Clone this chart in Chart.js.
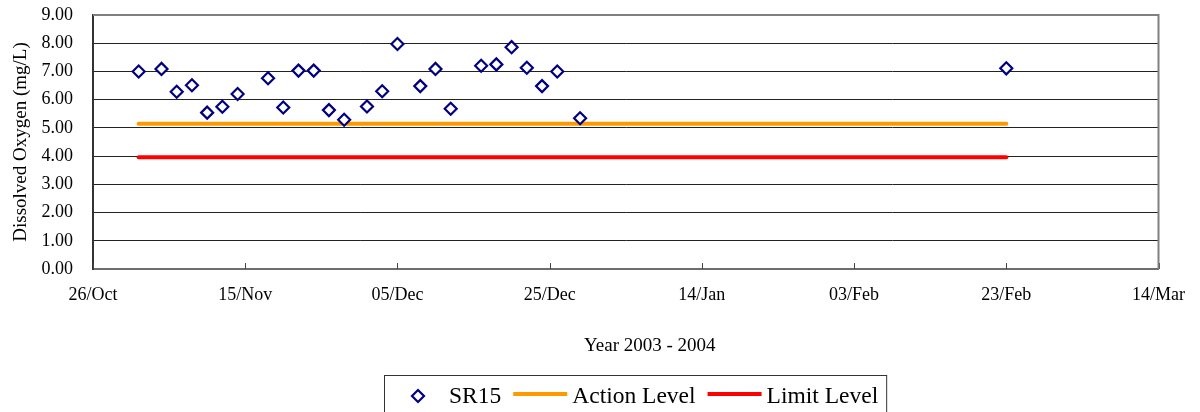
<!DOCTYPE html>
<html>
<head>
<meta charset="utf-8">
<title>Dissolved Oxygen – SR15</title>
<script src="https://cdn.jsdelivr.net/npm/chart.js@4.4.1/dist/chart.umd.min.js"></script>
<style>
  html, body { margin: 0; padding: 0; background: #ffffff; }
  #wrap { width: 1200px; height: 412px; position: relative; }
</style>
</head>
<body>
<div id="wrap"><canvas id="chart" width="1200" height="412"></canvas></div>
<script>
// Monitoring station SR15 – dissolved oxygen readings (mg/L)
const sampleDates = [
  '2003-11-01', '2003-11-04', '2003-11-06', '2003-11-08', '2003-11-10', '2003-11-12',
  '2003-11-14', '2003-11-18', '2003-11-20', '2003-11-22', '2003-11-24', '2003-11-26',
  '2003-11-28', '2003-12-01', '2003-12-03', '2003-12-05', '2003-12-08', '2003-12-10',
  '2003-12-12', '2003-12-16', '2003-12-18', '2003-12-20', '2003-12-22', '2003-12-24',
  '2003-12-26', '2003-12-29', '2004-02-23'
];
const doValues = [
  7.00, 7.09, 6.28, 6.51, 5.54, 5.75,
  6.20, 6.76, 5.72, 7.03, 7.03, 5.63,
  5.29, 5.76, 6.30, 7.97, 6.48, 7.09,
  5.68, 7.20, 7.25, 7.86, 7.13, 6.48,
  7.00, 5.34, 7.11
];

// Compliance thresholds (mg/L), applied across the monitoring period
const actionLevel = 5.15;
const limitLevel = 3.96;
const levelPeriod = ['2003-11-01', '2004-02-23'];

// Axis range, tick settings and titles
const axisStart = '2003-10-26';
const axisEnd = '2004-03-14';
const dateStepDays = 20;
const yMin = 0, yMax = 9, yStep = 1;
const monthNames = ['Jan','Feb','Mar','Apr','May','Jun','Jul','Aug','Sep','Oct','Nov','Dec'];
const xAxisTitle = 'Year 2003 - 2004';
const yAxisTitle = 'Dissolved Oxygen (mg/L)';

const DAY_MS = 86400000;
function toUTC(s) {
  const [y, m, d] = s.split('-').map(Number);
  return Date.UTC(y, m - 1, d);
}
const originMs = toUTC(axisStart);
function dayIndex(s) { return Math.round((toUTC(s) - originMs) / DAY_MS); }
function dayLabel(v) {
  const d = new Date(originMs + v * DAY_MS);
  const dd = String(d.getUTCDate()).padStart(2, '0');
  return dd + '/' + monthNames[d.getUTCMonth()];
}

const serif = "'Liberation Serif', 'Times New Roman', serif";

const sr15Points = sampleDates.map((s, i) => ({ x: dayIndex(s), y: doValues[i] }));
const actionPoints = levelPeriod.map(s => ({ x: dayIndex(s), y: actionLevel }));
const limitPoints = levelPeriod.map(s => ({ x: dayIndex(s), y: limitLevel }));

// Plot frame (top/right border), inward tick marks on the date axis, date-axis title
const framePlugin = {
  id: 'frame',
  beforeDatasetsDraw(chart) {
    const { ctx, chartArea: a, scales: { x } } = chart;
    ctx.save();
    ctx.strokeStyle = '#444';
    ctx.lineWidth = 1;
    x.ticks.forEach(t => {
      const px = Math.round(x.getPixelForValue(t.value)) + 0.5;
      ctx.beginPath();
      ctx.moveTo(px, a.bottom);
      ctx.lineTo(px, a.bottom - 6);
      ctx.stroke();
    });
    ctx.restore();
  },
  afterDraw(chart, args, opts) {
    const { ctx, chartArea: a } = chart;
    ctx.save();
    ctx.strokeStyle = '#808080';
    ctx.lineWidth = 2;
    ctx.beginPath();
    ctx.moveTo(a.left, a.top);
    ctx.lineTo(a.right, a.top);
    ctx.lineTo(a.right, a.bottom);
    ctx.stroke();

    ctx.fillStyle = '#000';
    ctx.font = opts.titleSize + 'px ' + serif;
    ctx.textAlign = 'center';
    ctx.textBaseline = 'middle';
    ctx.fillText(xAxisTitle, (a.left + a.right) / 2 + opts.titleShift, a.bottom + opts.titleDrop);
    ctx.restore();
  }
};

// Boxed legend below the axis title
const boxLegendPlugin = {
  id: 'boxLegend',
  afterDraw(chart, args, opts) {
    const { ctx } = chart;
    const ds = chart.data.datasets;
    ctx.save();
    ctx.font = opts.fontSize + 'px ' + serif;
    ctx.textBaseline = 'middle';
    const cy = opts.top + opts.rowOffset;
    let x = opts.left + opts.padLeft;
    let textEnd = x;
    ds.forEach(d => {
      const tw = ctx.measureText(d.label).width;
      let tx;
      if (d.showLine) {
        ctx.strokeStyle = d.borderColor;
        ctx.lineWidth = d.borderWidth;
        ctx.lineCap = 'butt';
        ctx.beginPath();
        ctx.moveTo(x, cy - 3);
        ctx.lineTo(x + opts.lineLen, cy - 3);
        ctx.stroke();
        tx = x + opts.lineLen + opts.lineTextGap;
      } else {
        const cx = x + opts.markerHalf, r = d.pointRadius;
        ctx.strokeStyle = d.pointBorderColor;
        ctx.lineWidth = d.pointBorderWidth;
        ctx.fillStyle = '#fff';
        ctx.beginPath();
        ctx.moveTo(cx - r, cy - 1);
        ctx.lineTo(cx, cy - 1 - r);
        ctx.lineTo(cx + r, cy - 1);
        ctx.lineTo(cx, cy - 1 + r);
        ctx.closePath();
        ctx.fill();
        ctx.stroke();
        tx = cx + opts.markerTextGap;
      }
      ctx.fillStyle = '#000';
      ctx.fillText(d.label, tx, cy);
      textEnd = tx + tw;
      x = textEnd + opts.itemGap;
    });
    ctx.strokeStyle = '#333';
    ctx.lineWidth = 1;
    ctx.strokeRect(opts.left + 0.5, opts.top + 0.5, textEnd + opts.padRight - opts.left, 60);
    ctx.restore();
  }
};

new Chart(document.getElementById('chart'), {
  type: 'scatter',
  data: {
    datasets: [
      {
        label: 'SR15',
        data: sr15Points,
        showLine: false,
        pointStyle: 'rectRot',
        pointRadius: 6,
        pointHoverRadius: 6,
        pointBorderWidth: 2.2,
        pointBorderColor: '#000080',
        pointBackgroundColor: '#ffffff',
        borderColor: '#000080',
        backgroundColor: '#ffffff'
      },
      {
        label: 'Action Level',
        data: actionPoints,
        showLine: true,
        borderColor: '#FF9900',
        backgroundColor: '#FF9900',
        borderWidth: 4,
        borderCapStyle: 'round',
        pointRadius: 0,
        pointHoverRadius: 0
      },
      {
        label: 'Limit Level',
        data: limitPoints,
        showLine: true,
        borderColor: '#FF0000',
        backgroundColor: '#FF0000',
        borderWidth: 4,
        borderCapStyle: 'round',
        pointRadius: 0,
        pointHoverRadius: 0
      }
    ]
  },
  options: {
    responsive: false,
    animation: false,
    devicePixelRatio: 1,
    layout: { padding: { left: 0, right: 40, top: 0, bottom: 0 } },
    plugins: {
      legend: { display: false },
      tooltip: { enabled: false },
      frame: { titleSize: 19, titleShift: 24, titleDrop: 77 },
      boxLegend: {
        left: 384, top: 375, rowOffset: 22, fontSize: 23.5,
        padLeft: 22, padRight: 8, markerHalf: 12, markerTextGap: 31,
        lineLen: 54, lineTextGap: 5, itemGap: 12
      }
    },
    scales: {
      x: {
        type: 'linear',
        position: 'bottom',
        min: dayIndex(axisStart),
        max: dayIndex(axisEnd),
        afterFit(scale) { scale.height = 143; },
        ticks: {
          stepSize: dateStepDays,
          autoSkip: false,
          maxRotation: 0,
          padding: 15,
          color: '#000',
          font: { family: serif, size: 18 },
          callback: v => dayLabel(v)
        },
        grid: { display: true, drawOnChartArea: false, drawTicks: false, color: 'rgba(0,0,0,0)' },
        border: { display: true, color: '#6e6e6e', width: 2 },
        title: { display: false }
      },
      y: {
        min: yMin,
        max: yMax,
        afterFit(scale) {
          scale.width = 93;
          scale.paddingTop = 15;
          scale.paddingBottom = 0;
        },
        ticks: {
          stepSize: yStep,
          padding: 20,
          color: '#000',
          font: { family: serif, size: 18 },
          callback: v => Number(v).toFixed(2)
        },
        grid: { color: '#222', lineWidth: 1, drawTicks: false },
        border: { display: true, color: '#333', width: 2 },
        title: {
          display: true,
          text: yAxisTitle,
          color: '#000',
          font: { family: serif, size: 19 },
          padding: { top: 10, bottom: 0 }
        }
      }
    }
  },
  plugins: [framePlugin, boxLegendPlugin]
});
</script>
</body>
</html>
